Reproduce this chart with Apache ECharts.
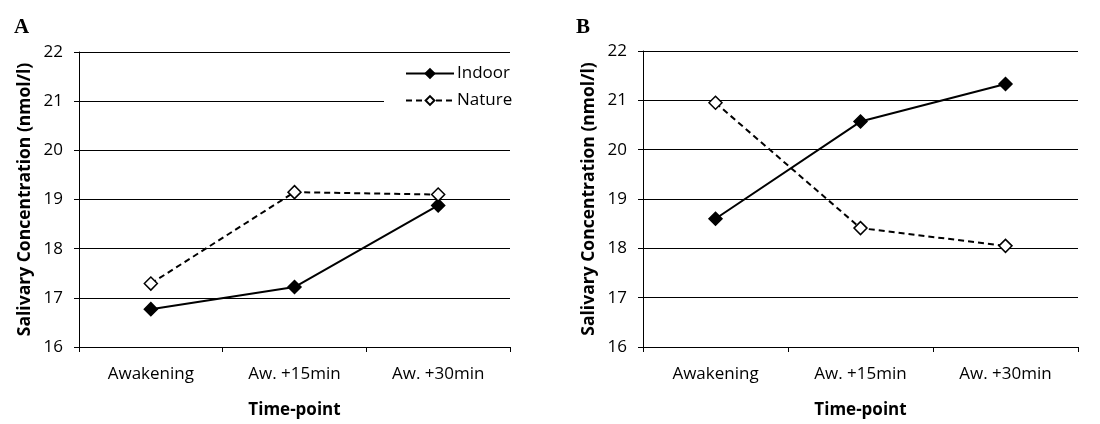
<!DOCTYPE html>
<html><head><meta charset="utf-8">
<script src="https://cdn.jsdelivr.net/npm/echarts@6/dist/echarts.min.js"></script>
<style>html,body{margin:0;padding:0;background:#fff}#c{width:1100px;height:424px}</style>
</head><body><div id="c"></div>
<script>
const categories = ['Awakening', 'Aw. +15min', 'Aw. +30min'];
const indoorA = [16.77, 17.22, 18.88];
const natureA = [17.29, 19.15, 19.10];
const indoorB = [18.60, 20.57, 21.33];
const natureB = [20.95, 18.41, 18.05];
const yMin = 16, yMax = 22, yStep = 1;

const font = 'Open Sans';
const chart = echarts.init(document.getElementById('c'));

function xAxis(gi) {
  return {
    type: 'category', gridIndex: gi, data: categories, boundaryGap: true,
    axisLine: {lineStyle: {color: '#000', width: 1}},
    axisTick: {show: true, length: 5, lineStyle: {color: '#000'}},
    axisLabel: {color: '#000', fontFamily: font, fontSize: 17, margin: 19},
    name: 'Time-point', nameLocation: 'middle', nameGap: 55,
    nameTextStyle: {color: '#000', fontFamily: font, fontSize: 17, fontWeight: 'bold'}
  };
}
function yAxis(gi) {
  return {
    type: 'value', gridIndex: gi, min: yMin, max: yMax, interval: yStep,
    axisLine: {show: true, lineStyle: {color: '#000', width: 1}},
    axisTick: {show: true, length: 5, lineStyle: {color: '#000'}},
    splitLine: {lineStyle: {color: '#000', width: 1}},
    axisLabel: {color: '#000', fontFamily: font, fontSize: 17, margin: 16},
    name: 'Salivary Concentration (nmol/l)', nameLocation: 'middle', nameGap: 45,
    nameTextStyle: {color: '#000', fontFamily: font, fontSize: 17.5, fontWeight: 'bold'}
  };
}
function series(name, data, gi, filled) {
  return {
    name: name, type: 'line', xAxisIndex: gi, yAxisIndex: gi, data: data,
    symbol: 'diamond', symbolSize: 13, showSymbol: true,
    lineStyle: {color: '#000', width: 2, type: filled ? 'solid' : [6, 4]},
    itemStyle: {color: filled ? '#000' : '#fff', borderColor: '#000', borderWidth: 1.5},
    animation: false
  };
}

chart.setOption({
  animation: false,
  title: [
    {text: 'A', left: 9, top: 12, textStyle: {fontFamily: 'Liberation Serif', fontSize: 21, fontWeight: 'bold', color: '#000'}},
    {text: 'B', left: 571, top: 12, textStyle: {fontFamily: 'Liberation Serif', fontSize: 21, fontWeight: 'bold', color: '#000'}}
  ],
  grid: [
    {left: 79, right: 590, top: 52, bottom: 74},
    {left: 643, right: 22, top: 51, bottom: 73}
  ],
  legend: {
    orient: 'vertical', left: 384, top: 62, itemGap: 10,
    backgroundColor: '#fff', padding: [3, 4, 3, 21],
    itemWidth: 48, itemHeight: 11,
    textStyle: {fontFamily: font, fontSize: 17, color: '#000', padding: [0, 0, 0, -2]},
    data: ['Indoor', 'Nature']
  },
  xAxis: [xAxis(0), xAxis(1)],
  yAxis: [yAxis(0), yAxis(1)],
  series: [
    series('Indoor', indoorA, 0, true),
    series('Nature', natureA, 0, false),
    series('Indoor', indoorB, 1, true),
    series('Nature', natureB, 1, false)
  ]
});
</script></body></html>
